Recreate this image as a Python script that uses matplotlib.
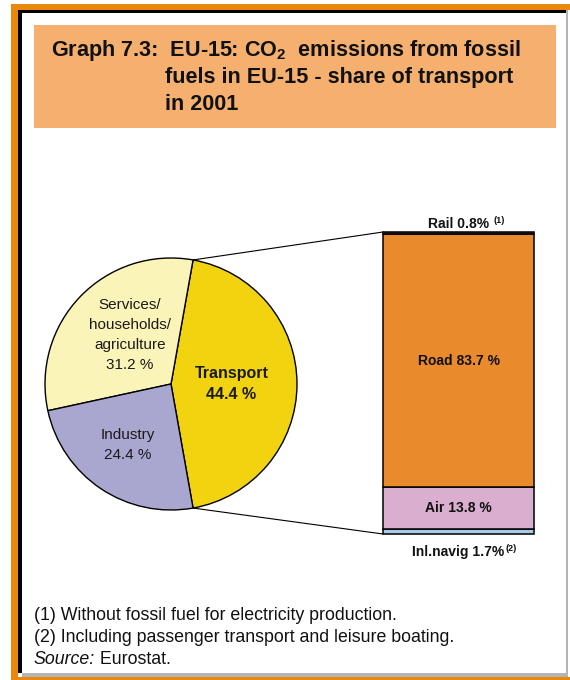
import numpy as np
import matplotlib
matplotlib.use("Agg")
import matplotlib.pyplot as plt
import matplotlib.patches as patches
from matplotlib.patches import ConnectionPatch

plt.rcParams['font.family'] = ['Liberation Sans', 'DejaVu Sans']
plt.rcParams['mathtext.fontset'] = 'custom'
plt.rcParams['mathtext.rm'] = 'Liberation Sans'
plt.rcParams['mathtext.bf'] = 'Liberation Sans:bold'

# CO2 emissions from fossil fuels, EU-15, 2001 (%)
sectors = ['Transport', 'Services/\nhouseholds/\nagriculture', 'Industry']
sector_shares = [44.4, 31.2, 24.4]
sector_colors = ['#F2D30F', '#FBF4B9', '#A9A7D0']

# split of the transport share, bottom to top of the column
modes = ['Inl.navig', 'Air', 'Road', 'Rail']
mode_shares = [1.7, 13.8, 83.7, 0.8]
mode_colors = ['#A8CBEA', '#D9AECF', '#E98A2C', '#3A3A3A']

W, H = 570, 680
fig = plt.figure(figsize=(W / 100, H / 100), dpi=100)

# background axes in pixel units for frame, title and notes
bg = fig.add_axes([0, 0, 1, 1])
bg.set_xlim(0, W)
bg.set_ylim(H, 0)
bg.axis('off')

orange = '#E8890E'
def box(x0, y0, x1, y1, color):
    bg.add_patch(patches.Rectangle((x0, y0), x1 - x0, y1 - y0, facecolor=color,
                                   edgecolor='none'))

box(11, 4, W, 10, orange)
box(11, 4, 18, H, orange)
box(11, 677, W, H, orange)
box(18, 10, 566, 13, 'black')
box(18, 10, 22, 673, 'black')
box(566, 10, 568, 677, '#B4B4B4')
box(22, 673, 568, 677, '#B4B4B4')

# title panel
box(34, 25, 556, 128, '#F5B06F')
title_kw = dict(fontsize=15.6, fontweight='bold', color='#111111', va='baseline', ha='left')
bg.text(51, 56, r'Graph 7.3:  EU-15: CO$_{\mathbf{2}}$  emissions from fossil', **title_kw)
bg.text(165, 83, 'fuels in EU-15 - share of transport', **title_kw)
bg.text(165, 110, 'in 2001', **title_kw)

# notes
note_kw = dict(fontsize=12.8, color='#111111', va='baseline', ha='left')
bg.text(34, 620, '(1) Without fossil fuel for electricity production.', **note_kw)
bg.text(34, 642, '(2) Including passenger transport and leisure boating.', **note_kw)
src = bg.text(34, 664, 'Source:', fontstyle='italic', **note_kw)
bg.annotate(' Eurostat.', xy=(1, 0), xycoords=src, va='bottom', ha='left',
            fontsize=12.8, color='#111111', annotation_clip=False)

# pie
cx, cy, r = 171, 384, 126
ax_pie = fig.add_axes([(cx - r) / W, (H - cy - r) / H, 2 * r / W, 2 * r / H])
wedges, _ = ax_pie.pie(sector_shares, colors=sector_colors,
                       startangle=-sector_shares[0] / 100 * 180, counterclock=True,
                       wedgeprops=dict(edgecolor='black', linewidth=1.0))
ax_pie.set_xlim(-1, 1)
ax_pie.set_ylim(-1, 1)
ax_pie.set_aspect('equal')
ax_pie.axis('off')

label_r = [0.48, 0.51, 0.59]
label_ang = [0, 129.8, 234.7]
for i, (name, share) in enumerate(zip(sectors, sector_shares)):
    a = np.deg2rad(label_ang[i])
    bold = 'bold' if i == 0 else 'normal'
    ax_pie.text(label_r[i] * np.cos(a), label_r[i] * np.sin(a), f'{name}\n{share} %',
                ha='center', va='center', fontsize=11.5 if i == 0 else 11,
                fontweight=bold, color='#1A1A1A', linespacing=1.55)

# stacked column for transport
bx0, bx1, by0, by1 = 383, 534, 232, 534
ax_bar = fig.add_axes([bx0 / W, (H - by1) / H, (bx1 - bx0) / W, (by1 - by0) / H])
bottom = 0
bar_mid = []
for share, col in zip(mode_shares, mode_colors):
    ax_bar.bar(0, share, bottom=bottom, width=1, color=col, edgecolor='black',
               linewidth=1.1, clip_on=False)
    bar_mid.append(bottom + share / 2)
    bottom += share
total = bottom
ax_bar.set_xlim(-0.5, 0.5)
ax_bar.set_ylim(0, total)
ax_bar.axis('off')

lab_kw = dict(fontsize=10, fontweight='bold', color='#111111', ha='center', va='center')
ax_bar.text(0, bar_mid[2], f'{modes[2]} {mode_shares[2]} %', **lab_kw)
ax_bar.text(0, bar_mid[1], f'{modes[1]} {mode_shares[1]} %', **lab_kw)

rail = ax_bar.annotate(f'{modes[3]} {mode_shares[3]}%', xy=(0, total), xytext=(0, 0.5),
                       textcoords='offset points', fontsize=10, fontweight='bold',
                       color='#111111', ha='center', va='bottom', annotation_clip=False)
ax_bar.annotate('(1)', xy=(1, 1), xycoords=rail, xytext=(3, 1), textcoords='offset points',
                fontsize=6.5, fontweight='bold', ha='left', va='top', color='#111111')
inl = ax_bar.annotate(f'{modes[0]} {mode_shares[0]}%', xy=(0, 0), xytext=(0, -8),
                      textcoords='offset points', fontsize=10, fontweight='bold',
                      color='#111111', ha='center', va='top', annotation_clip=False)
ax_bar.annotate('(2)', xy=(1, 1), xycoords=inl, xytext=(0.5, 1), textcoords='offset points',
                fontsize=6.5, fontweight='bold', ha='left', va='top', color='#111111')

# lines joining the transport wedge to the column
t = wedges[0]
for ang, yb in [(t.theta2, total), (t.theta1, 0)]:
    a = np.deg2rad(ang)
    con = ConnectionPatch(xyA=(np.cos(a), np.sin(a)), coordsA=ax_pie.transData,
                          xyB=(-0.5, yb), coordsB=ax_bar.transData,
                          color='black', linewidth=0.8)
    fig.add_artist(con)

fig.savefig('out.png', dpi=100)
